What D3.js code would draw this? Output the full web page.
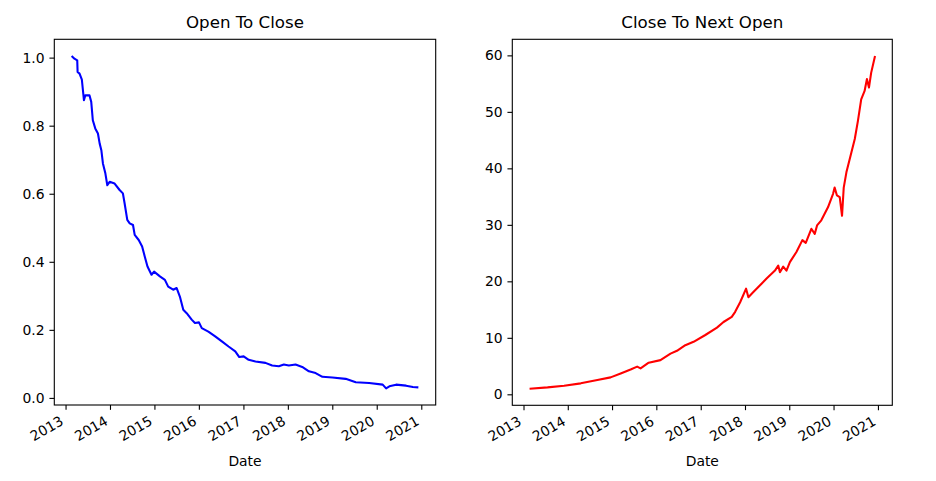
<!DOCTYPE html>
<html>
<head>
<meta charset="utf-8">
<script src="https://cdn.jsdelivr.net/npm/d3@7"></script>
<style>
  html, body { margin: 0; padding: 0; background: #fff; }
  svg { display: block; }
  text { font-family: "DejaVu Sans", sans-serif; fill: #000; }
</style>
</head>
<body>
<svg id="chart" width="936" height="481"></svg>
<script>
// ---- Data ----
const otcDates = ["2013-02-20","2013-03-15","2013-04-07","2013-04-10","2013-04-26","2013-05-15","2013-06-01","2013-06-12","2013-07-17","2013-07-31","2013-08-13","2013-09-02","2013-09-24","2013-10-08","2013-10-22","2013-11-04","2013-11-24","2013-12-10","2013-12-29","2014-02-08","2014-03-21","2014-04-17","2014-05-01","2014-05-23","2014-06-12","2014-07-09","2014-07-23","2014-08-25","2014-09-22","2014-10-14","2014-11-05","2014-12-08","2014-12-29","2015-02-15","2015-03-28","2015-04-24","2015-06-04","2015-07-02","2015-07-29","2015-08-26","2015-09-23","2015-11-03","2015-11-30","2016-01-02","2016-01-25","2016-03-19","2016-05-14","2016-07-08","2016-09-01","2016-10-26","2016-11-28","2017-01-03","2017-02-13","2017-04-10","2017-07-01","2017-08-25","2017-10-19","2017-11-29","2018-01-09","2018-03-05","2018-04-29","2018-06-23","2018-08-17","2018-10-12","2019-01-02","2019-04-21","2019-07-13","2019-10-31","2020-02-19","2020-03-18","2020-04-14","2020-06-08","2020-08-29","2020-10-24","2020-12-08"];
const otcValues = [1.005,0.997,0.992,0.958,0.953,0.935,0.875,0.889,0.889,0.870,0.816,0.792,0.777,0.748,0.728,0.689,0.660,0.625,0.635,0.630,0.611,0.601,0.572,0.523,0.513,0.508,0.479,0.464,0.445,0.415,0.386,0.362,0.371,0.357,0.347,0.327,0.318,0.323,0.298,0.259,0.249,0.230,0.220,0.222,0.205,0.195,0.181,0.166,0.151,0.137,0.120,0.122,0.112,0.107,0.103,0.095,0.093,0.098,0.095,0.098,0.091,0.078,0.073,0.062,0.060,0.056,0.046,0.044,0.039,0.028,0.034,0.039,0.036,0.032,0.031];

const ctoDates = ["2013-02-20","2013-07-18","2013-12-02","2014-04-18","2014-09-02","2014-12-20","2015-03-13","2015-06-03","2015-07-27","2015-08-24","2015-10-30","2016-02-04","2016-04-27","2016-06-19","2016-08-27","2016-11-03","2017-02-08","2017-05-15","2017-07-08","2017-09-14","2017-10-12","2017-11-22","2018-01-10","2018-01-29","2018-03-11","2018-05-05","2018-06-28","2018-09-05","2018-10-02","2018-10-16","2018-11-12","2018-12-09","2019-01-06","2019-03-01","2019-04-19","2019-05-17","2019-07-02","2019-07-30","2019-08-18","2019-09-22","2019-11-16","2019-12-28","2020-01-10","2020-01-29","2020-02-21","2020-03-11","2020-03-25","2020-04-16","2020-05-27","2020-06-24","2020-07-20","2020-08-16","2020-09-13","2020-10-02","2020-10-19","2020-11-06","2020-12-08"];
const ctoValues = [1.0,1.23,1.52,1.94,2.52,3.0,3.7,4.4,4.9,4.6,5.6,6.05,7.2,7.7,8.7,9.3,10.5,11.8,12.8,13.7,14.6,16.3,18.7,17.2,18.1,19.3,20.5,21.9,22.8,21.6,22.6,21.9,23.4,25.2,27.3,26.8,29.3,28.4,29.9,30.8,33.1,35.5,36.6,35.2,34.9,31.6,36.6,39.3,42.8,45.2,48.4,52.2,53.7,55.8,54.3,56.9,59.9];

const yearTicks = [2013,2014,2015,2016,2017,2018,2019,2020,2021];
const otcTicks = [0.0,0.2,0.4,0.6,0.8,1.0];
const ctoTicks = [0,10,20,30,40,50,60];
const titles = ["Open To Close","Close To Next Open"];
const xLabel = "Date";

// ---- Drawing ----
const svg = d3.select("#chart");
const parse = d3.timeParse("%Y-%m-%d");
const TICK = 4.86, PAD = 4.86;

function marginDomain(ext) {
  const span = ext[1] - ext[0];
  return [ext[0] - 0.05 * span, ext[1] + 0.05 * span];
}

function panel(box, dates, values, yTicks, yFmt, color, title) {
  const data = dates.map((d, i) => ({ d: parse(d), v: values[i] }));
  const tExt = d3.extent(data, p => +p.d);
  const tDom = marginDomain(tExt);
  const x = d3.scaleTime().domain([new Date(tDom[0]), new Date(tDom[1])]).range([box.x0, box.x1]);
  const y = d3.scaleLinear().domain(marginDomain(d3.extent(data, p => p.v))).range([box.y1, box.y0]);

  const g = svg.append("g");

  // line
  g.append("path")
    .datum(data)
    .attr("fill", "none")
    .attr("stroke", color)
    .attr("stroke-width", 2.08)
    .attr("stroke-linejoin", "round")
    .attr("d", d3.line().x(p => x(p.d)).y(p => y(p.v)));

  // y axis
  const ya = g.append("g")
    .attr("transform", `translate(${box.x0},0)`)
    .call(d3.axisLeft(y).tickValues(yTicks).tickFormat(yFmt).tickSize(TICK).tickPadding(PAD));
  ya.select(".domain").remove();
  ya.selectAll(".tick line").attr("stroke", "#000").attr("stroke-width", 1.1);
  ya.selectAll(".tick text").style("font-family", "DejaVu Sans").style("font-size", "13.9px").attr("fill", "#000");

  // x axis
  const xa = g.append("g")
    .attr("transform", `translate(0,${box.y1})`)
    .call(d3.axisBottom(x).tickValues(yearTicks.map(yr => new Date(yr, 0, 1))).tickFormat(d3.timeFormat("%Y")).tickSize(TICK));
  xa.select(".domain").remove();
  xa.selectAll(".tick line").attr("stroke", "#000").attr("stroke-width", 1.1);
  xa.selectAll(".tick text")
    .attr("x", 0).attr("y", 0).attr("dy", 0)
    .attr("transform", `translate(-1.6,${TICK + PAD + 9.1}) rotate(-30)`)
    .style("text-anchor", "end")
    .style("font-family", "DejaVu Sans").style("font-size", "13.9px").attr("fill", "#000");

  // frame
  g.append("rect")
    .attr("x", box.x0).attr("y", box.y0)
    .attr("width", box.x1 - box.x0).attr("height", box.y1 - box.y0)
    .attr("fill", "none").attr("stroke", "#000").attr("stroke-width", 1.1);

  // title
  g.append("text")
    .attr("x", (box.x0 + box.x1) / 2).attr("y", box.y0 - 11)
    .attr("text-anchor", "middle")
    .style("font-size", "16.67px")
    .text(title);

  // x label
  g.append("text")
    .attr("x", (box.x0 + box.x1) / 2).attr("y", 466)
    .attr("text-anchor", "middle")
    .style("font-size", "13.9px")
    .text(xLabel);
}

panel({ x0: 54.3, x1: 435.7, y0: 39.3, y1: 405 }, otcDates, otcValues, otcTicks, d3.format(".1f"), "#0000ff", titles[0]);
panel({ x0: 512.3, x1: 892.3, y0: 39.3, y1: 405.3 }, ctoDates, ctoValues, ctoTicks, d3.format("d"), "#ff0000", titles[1]);
</script>
</body>
</html>
